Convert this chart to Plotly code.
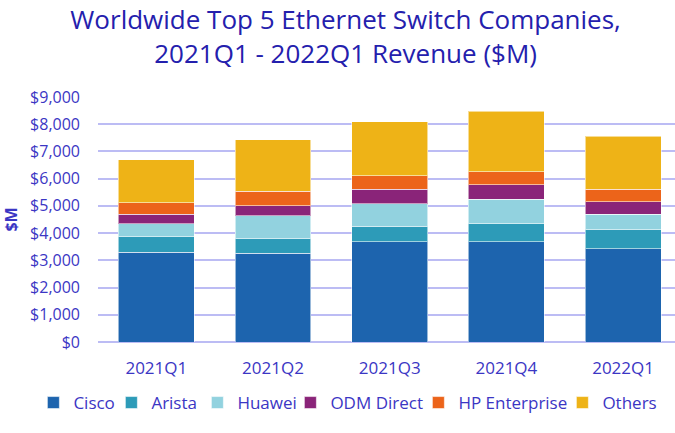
import plotly.graph_objects as go

# quarterly revenue by vendor, $M
quarters = ["2021Q1", "2021Q2", "2021Q3", "2021Q4", "2022Q1"]
cisco = [3300, 3260, 3675, 3675, 3420]
arista = [560, 540, 575, 675, 710]
huawei = [490, 830, 835, 900, 560]
odm_direct = [340, 380, 525, 530, 470]
hp_enterprise = [430, 525, 490, 480, 460]
others = [1580, 1900, 2000, 2215, 1935]

y_ticks = [0, 1000, 2000, 3000, 4000, 5000, 6000, 7000, 8000, 9000]
y_tick_text = ["$0", "$1,000", "$2,000", "$3,000", "$4,000", "$5,000",
               "$6,000", "$7,000", "$8,000", "$9,000"]

# name, values, colour, legend entry width (px) to keep the legend on one row
series = [
    ("Cisco", cisco, "#1d64ae", 33),
    ("Arista", arista, "#2d9bb8", 41),
    ("Huawei", huawei, "#92d2df", 48),
    ("ODM Direct", odm_direct, "#8a2479", 83),
    ("HP Enterprise", hp_enterprise, "#ec641a", 99),
    ("Others", others, "#eeb317", 60),
]

text_col = "#3b36c4"

fig = go.Figure()
for name, vals, col, lw in series:
    fig.add_trace(go.Bar(
        x=quarters, y=vals, name=name, legendwidth=lw,
        marker=dict(color=col, line=dict(color="rgba(255,255,255,0.55)", width=1)),
    ))

fig.update_layout(
    barmode="stack",
    bargap=0.35,
    width=675, height=433,
    margin=dict(l=98, r=0, t=97, b=91),
    paper_bgcolor="white",
    plot_bgcolor="white",
    font=dict(family="Open Sans", color=text_col, size=16),
    title=dict(
        text="Worldwide Top 5 Ethernet Switch Companies,<br>2021Q1 - 2022Q1 Revenue ($M)",
        x=0.512, xanchor="center", y=0.932, yanchor="top",
        font=dict(family="Open Sans", size=26, color="#2420ad"),
    ),
    # anchored left of / below the plot area so the whole width is usable
    legend=dict(
        orientation="h", x=-0.112, xanchor="left",
        y=-0.249, yanchor="middle",
        font=dict(size=17, color=text_col),
        traceorder="normal", itemwidth=30,
    ),
)

fig.update_xaxes(
    range=[-0.5, 4.445],
    showgrid=False, showline=False, ticks="",
    tickfont=dict(size=17, color=text_col),
    ticklabelstandoff=14,
)
fig.update_yaxes(
    range=[0, 9000],
    tickvals=y_ticks, ticktext=y_tick_text,
    showgrid=True, gridcolor="#bcbcf4", gridwidth=1.5,
    zeroline=True, zerolinecolor="#bcbcf4", zerolinewidth=1.5,
    tickfont=dict(size=16, color=text_col),
    title=dict(text="<b>$M</b>", font=dict(size=16, color=text_col), standoff=8),
    ticklabelstandoff=17,
)

# drop the browser's default 8px body margin so the figure sits at 0,0
fig.write_html("out.html", config={"displayModeBar": False},
               post_script="document.body.style.margin='0';")
